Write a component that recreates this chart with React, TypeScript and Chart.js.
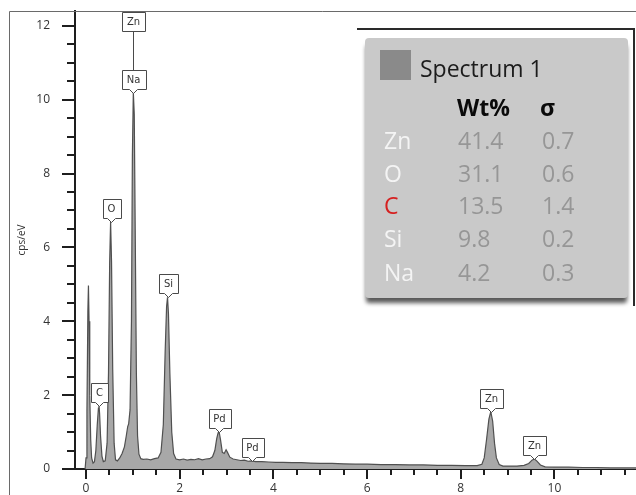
import React, { useEffect, useRef } from "react";
import { Chart, registerables } from "chart.js";

Chart.register(...registerables);

// ---- Spectrum data (energy keV, counts cps/eV) ----
const energyKeV = [
  -0.02, 0.0, 0.02, 0.04, 0.052, 0.065, 0.08, 0.1, 0.12, 0.15, 0.18, 0.21, 0.24, 0.265, 0.277, 0.29, 0.31, 0.34, 0.37,
  0.41, 0.45, 0.48, 0.505, 0.525, 0.545, 0.57, 0.6, 0.63, 0.67, 0.72, 0.77, 0.82, 0.86, 0.89, 0.91, 0.94, 0.97, 0.99,
  1.01, 1.03, 1.05, 1.075, 1.1, 1.13, 1.17, 1.22, 1.3, 1.38, 1.46, 1.54, 1.6, 1.65, 1.69, 1.72, 1.74, 1.76, 1.79, 1.83,
  1.87, 1.92, 2.0, 2.08, 2.16, 2.24, 2.32, 2.4, 2.48, 2.56, 2.64, 2.7, 2.75, 2.79, 2.82, 2.84, 2.87, 2.91, 2.95, 2.99,
  3.02, 3.07, 3.14, 3.22, 3.3, 3.38, 3.46, 3.54, 3.62, 3.75, 3.9, 4.05, 4.2, 4.4, 4.6, 4.8, 5.0, 5.25, 5.5, 5.75, 6.0,
  6.3, 6.6, 6.9, 7.2, 7.5, 7.8, 8.1, 8.35, 8.45, 8.5, 8.55, 8.6, 8.64, 8.68, 8.72, 8.76, 8.82, 8.9, 9.05, 9.2, 9.35,
  9.45, 9.52, 9.57, 9.62, 9.7, 9.8, 10.0, 10.3, 10.6, 10.9, 11.2, 11.5, 11.74,
];
const cpsPerEV = [
  0, 0.3, 1.6, 4.3, 4.97, 4.0, 2.0, 0.8, 0.3, 0.16, 0.2, 0.5, 1.2, 1.65, 1.73, 1.5, 0.9, 0.35, 0.2,
  0.22, 0.7, 2.6, 5.6, 6.7, 5.6, 2.7, 0.7, 0.25, 0.22, 0.3, 0.42, 0.6, 0.9, 1.15, 1.22, 1.6, 4.0, 8.5,
  10.2, 9.6, 6.5, 2.6, 0.9, 0.4, 0.28, 0.26, 0.27, 0.25, 0.28, 0.3, 0.45, 1.2, 3.2, 4.4, 4.65, 4.2, 2.6, 1.0,
  0.42, 0.27, 0.25, 0.27, 0.24, 0.26, 0.25, 0.28, 0.25, 0.27, 0.28, 0.33, 0.5, 0.82, 0.98, 1.01, 0.8, 0.45, 0.42, 0.52,
  0.45, 0.32, 0.27, 0.25, 0.23, 0.24, 0.21, 0.22, 0.2, 0.2, 0.19, 0.18, 0.18, 0.17, 0.17, 0.16, 0.15, 0.15, 0.14, 0.13, 0.13,
  0.12, 0.12, 0.11, 0.11, 0.1, 0.1, 0.09, 0.09, 0.13, 0.3, 0.8, 1.35, 1.55, 1.3, 0.7, 0.3, 0.12, 0.08, 0.08, 0.08, 0.1,
  0.15, 0.24, 0.27, 0.22, 0.11, 0.06, 0.05, 0.05, 0.04, 0.04, 0.03, 0.03, 0.03,
];

// ---- Peak labels ----
const peakNames = ["Zn", "Na", "O", "C", "Si", "Pd", "Pd", "Zn", "Zn"];
const peakEnergy = [1.01, 1.01, 0.525, 0.277, 1.74, 2.84, 3.54, 8.64, 9.57];
const peakTipY = [11.85, 10.18, 6.7, 1.7, 4.65, 1.0, 0.22, 1.55, 0.26];
const peakStemTo = [10.2, null, null, null, null, null, null, null, null];

// ---- Ticks ----
const xTickLabels = [0, 2, 4, 6, 8, 10];
const yTickLabels = [0, 2, 4, 6, 8, 10, 12];

// ---- Quantification table ----
const spectrumName = "Spectrum 1";
const elements = ["Zn", "O", "C", "Si", "Na"];
const wtPercent = ["41.4", "31.1", "13.5", "9.8", "4.2"];
const sigma = ["0.7", "0.6", "1.4", "0.2", "0.3"];

const edsPlugin = {
  id: "edsDecor",
  afterDatasetsDraw(chart: any) {
    const { ctx, scales } = chart;
    const x = scales.x;
    const y = scales.y;
    ctx.save();
    ctx.font = "10px 'DejaVu Sans'";
    ctx.textAlign = "center";
    ctx.textBaseline = "middle";
    for (let i = 0; i < peakNames.length; i++) {
      const cx = Math.round(x.getPixelForValue(peakEnergy[i])) + 0.5;
      const tip = y.getPixelForValue(peakTipY[i]);
      const stem = peakStemTo[i];
      const notch = stem == null ? 4 : 0;
      const w = Math.round(ctx.measureText(peakNames[i]).width + 10);
      const h = 19;
      const bottom = Math.round(tip - notch) + 0.5;
      const top = bottom - h;
      const left = Math.round(cx - w / 2) + 0.5;
      const right = left + w;
      ctx.strokeStyle = "#4a4a4a";
      ctx.lineWidth = 1;
      if (stem != null) {
        ctx.beginPath();
        ctx.moveTo(cx, bottom);
        ctx.lineTo(cx, y.getPixelForValue(stem));
        ctx.stroke();
      }
      ctx.beginPath();
      ctx.moveTo(left, top);
      ctx.lineTo(right, top);
      ctx.lineTo(right, bottom);
      if (notch) {
        ctx.lineTo(cx + 4, bottom);
        ctx.lineTo(cx, bottom + notch);
        ctx.lineTo(cx - 4, bottom);
      }
      ctx.lineTo(left, bottom);
      ctx.closePath();
      ctx.fillStyle = "#ffffff";
      ctx.fill();
      ctx.stroke();
      ctx.fillStyle = "#333333";
      ctx.fillText(peakNames[i], cx, (top + bottom) / 2 + 0.5);
    }
    ctx.restore();
  },
  afterDraw(chart: any) {
    const { ctx, scales, chartArea } = chart;
    const x = scales.x;
    const y = scales.y;
    ctx.save();
    ctx.strokeStyle = "#1e1e1e";
    ctx.lineWidth = 2;
    for (let k = 0; k * 0.5 <= y.max + 1e-9; k++) {
      const py = Math.round(y.getPixelForValue(k * 0.5));
      const len = k % 4 === 0 ? 13 : 8;
      ctx.beginPath();
      ctx.moveTo(chartArea.left - len, py);
      ctx.lineTo(chartArea.left, py);
      ctx.stroke();
    }
    for (let k = 0; k * 0.5 <= x.max + 1e-9; k++) {
      const px = Math.round(x.getPixelForValue(k * 0.5));
      const len = k % 4 === 0 ? 10 : 6;
      ctx.beginPath();
      ctx.moveTo(px, chartArea.bottom);
      ctx.lineTo(px, chartArea.bottom + len);
      ctx.stroke();
    }
    ctx.strokeStyle = "#6a6a6a";
    ctx.lineWidth = 1;
    ctx.beginPath();
    ctx.moveTo(9.5, chart.height);
    ctx.lineTo(9.5, 11.5);
    ctx.lineTo(chart.width, 11.5);
    ctx.stroke();
    ctx.restore();
  },
};

export default function App() {
  const canvasRef = useRef<HTMLCanvasElement>(null);

  useEffect(() => {
    if (!canvasRef.current) return;
    const points = energyKeV.map((e, i) => ({ x: e, y: cpsPerEV[i] }));
    const chart = new Chart(canvasRef.current, {
      type: "line",
      data: {
        datasets: [
          {
            label: spectrumName,
            data: points,
            borderColor: "#505050",
            borderWidth: 1.2,
            backgroundColor: "rgb(168,168,168)",
            fill: "origin",
            pointRadius: 0,
            tension: 0,
          },
        ],
      },
      options: {
        animation: false,
        responsive: true,
        maintainAspectRatio: false,
        layout: { padding: { top: 11, left: 0, right: 0, bottom: 0 } },
        plugins: { legend: { display: false }, tooltip: { enabled: false } },
        scales: {
          x: {
            type: "linear",
            min: -0.235,
            max: 11.74,
            grid: { display: false },
            border: { display: true, color: "#1e1e1e", width: 2 },
            afterBuildTicks: (scale: any) => {
              scale.ticks = xTickLabels.map((v) => ({ value: v }));
            },
            afterFit: (scale: any) => {
              scale.height = 26;
              scale.paddingLeft = 0;
              scale.paddingRight = 0;
              scale.paddingTop = 0;
              scale.paddingBottom = 0;
            },
            ticks: {
              autoSkip: false,
              maxRotation: 0,
              padding: 4,
              color: "#333",
              font: { family: "'Open Sans'", size: 12 },
              callback: (v: any) => String(v),
            },
          },
          y: {
            type: "linear",
            min: 0,
            max: 12.4,
            grid: { display: false },
            border: { display: true, color: "#1e1e1e", width: 2 },
            afterBuildTicks: (scale: any) => {
              scale.ticks = yTickLabels.map((v) => ({ value: v }));
            },
            afterFit: (scale: any) => {
              scale.width = 75;
              scale.paddingTop = 0;
              scale.paddingBottom = 0;
              scale.paddingLeft = 0;
              scale.paddingRight = 0;
            },
            title: {
              display: true,
              text: "cps/eV",
              color: "#333",
              font: { family: "'Open Sans'", size: 10 },
              padding: { top: 16, bottom: 0 },
            },
            ticks: {
              autoSkip: false,
              padding: 17,
              color: "#333",
              font: { family: "'Open Sans'", size: 12 },
              callback: (v: any) => String(v),
            },
          },
        },
      },
      plugins: [edsPlugin],
    });
    return () => chart.destroy();
  }, []);

  const rowTop = [102, 135, 167, 200, 234];
  const nameColor = (el: string) => (el === "C" ? "rgb(214,32,32)" : "#f4f4f4");
  const cell = (left: number, top: number, color: string, extra: any = {}) => ({
    position: "absolute" as const,
    left,
    top,
    fontSize: 23,
    lineHeight: "32px",
    color,
    whiteSpace: "nowrap" as const,
    ...extra,
  });

  return (
    <div style={{ position: "fixed", left: 0, top: 0, width: 636, height: 495, background: "#fff" }}>
      <canvas ref={canvasRef} />
      <div
        style={{
          position: "absolute",
          left: 357,
          top: 28,
          width: 276,
          height: 276,
          borderTop: "2px solid #2a2a2a",
          borderRight: "2px solid #2a2a2a",
          pointerEvents: "none",
        }}
      />
      <div
        style={{
          position: "absolute",
          left: 365,
          top: 38,
          width: 263,
          height: 260,
          background: "rgb(201,201,201)",
          borderRadius: 4,
          boxShadow: "0 6px 4px -1px rgba(0,0,0,0.65)",
          fontFamily: "'Open Sans', sans-serif",
        }}
      >
        <div style={{ position: "absolute", left: 15, top: 12, width: 31, height: 30, background: "rgb(138,138,138)" }} />
        <div style={cell(55, 14, "#1c1c1c")}>{spectrumName}</div>
        <div style={cell(92, 53, "#0a0a0a", { fontWeight: 700, fontSize: 23 })}>Wt%</div>
        <div style={cell(175, 53, "#0a0a0a", { fontWeight: 700, fontSize: 23 })}>σ</div>
        {elements.map((el, i) => (
          <React.Fragment key={el}>
            <div style={cell(19, rowTop[i] - 16, nameColor(el))}>{el}</div>
            <div style={cell(93, rowTop[i] - 16, "rgb(150,150,150)")}>{wtPercent[i]}</div>
            <div style={cell(177, rowTop[i] - 16, "rgb(150,150,150)")}>{sigma[i]}</div>
          </React.Fragment>
        ))}
      </div>
    </div>
  );
}
